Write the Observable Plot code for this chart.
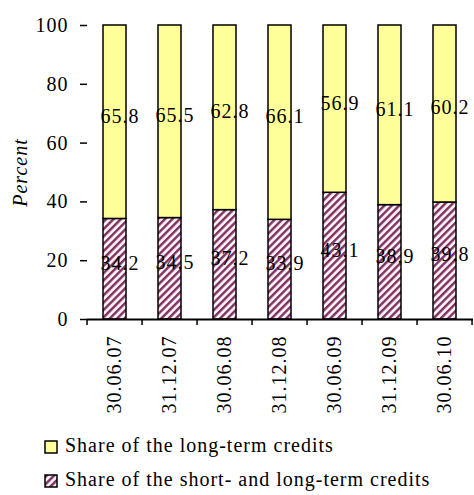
<!DOCTYPE html>
<html>
<head>
<meta charset="utf-8">
<script src="https://cdn.jsdelivr.net/npm/d3@7"></script>
<script src="https://cdn.jsdelivr.net/npm/@observablehq/plot@0.6"></script>
<style>
  html, body { margin: 0; padding: 0; background: #fff; }
  #chart svg, #legend svg { display: block; }
</style>
</head>
<body>
<div id="chart"></div>
<div id="legend"></div>
<script>
// ---- data ----
const dates = ["30.06.07", "31.12.07", "30.06.08", "31.12.08", "30.06.09", "31.12.09", "30.06.10"];
const shortAndLong = [34.2, 34.5, 37.2, 33.9, 43.1, 38.9, 39.8];
const longTerm = [65.8, 65.5, 62.8, 66.1, 56.9, 61.1, 60.2];
const seriesNames = ["Share of the long-term credits", "Share of the short- and long-term credits"];
const yTicks = [0, 20, 40, 60, 80, 100];
const yLabel = "Percent";

// ---- style ----
const FONT = "'Liberation Serif', 'Times New Roman', serif";
const FS = "20px", LS = "1px";
const YELLOW = "#ffff99";
const STRIPE = "#7d3461";
const STRIPE_BG = "#fbeef5";
const PAD_IN = 0.58, PAD_OUT = 0.29;

const rows = dates.map((d, i) => ({
  date: d,
  low: shortAndLong[i],
  high: longTerm[i],
  top: shortAndLong[i] + longTerm[i]
}));

function defsMark() {
  const g = d3.create("svg:g");
  const p = g.append("defs").append("pattern")
    .attr("id", "hatch")
    .attr("patternUnits", "userSpaceOnUse")
    .attr("width", 5.2).attr("height", 5.2)
    .attr("patternTransform", "rotate(45)");
  p.append("rect").attr("width", 5.2).attr("height", 5.2).attr("fill", STRIPE_BG);
  p.append("rect").attr("width", 2.4).attr("height", 5.2).attr("fill", STRIPE);
  return g.node();
}

function boundaryTicks(index, scales, values, dims) {
  const x = scales.x, y = scales.y;
  const step = x(dates[1]) - x(dates[0]);
  const g = d3.create("svg:g").attr("stroke", "black").attr("stroke-width", 1.5);
  const y0 = y(0);
  const xs = dates.map(d => x(d) - step * PAD_OUT);
  xs.push(x(dates[dates.length - 1]) + step * (1 - PAD_OUT));
  for (const bx of xs) {
    g.append("line").attr("x1", bx).attr("x2", bx).attr("y1", y0).attr("y2", y0 + 6);
  }
  return g.node();
}

const chart = Plot.plot({
  width: 474,
  height: 425,
  marginTop: 25,
  marginLeft: 87,
  marginRight: 1,
  marginBottom: 106,
  style: { fontFamily: FONT, fontSize: FS, letterSpacing: LS, background: "white", color: "black" },
  x: { domain: dates, paddingInner: PAD_IN, paddingOuter: PAD_OUT, align: 0.5 },
  y: { domain: [0, 100] },
  marks: [
    defsMark,
    Plot.barY(rows, { x: "date", y1: 0, y2: "low", fill: "url(#hatch)", stroke: "black", strokeWidth: 1.5 }),
    Plot.barY(rows, { x: "date", y1: "low", y2: "top", fill: YELLOW, stroke: "black", strokeWidth: 1.5 }),
    Plot.text(rows, { x: "date", y: d => d.low / 2, text: d => d.low.toFixed(1), dx: 5, dy: -6, fill: "black" }),
    Plot.text(rows, { x: "date", y: d => d.low + d.high / 2, text: d => d.high.toFixed(1), dx: 5, dy: -6, fill: "black" }),
    Plot.axisY({ ticks: yTicks, tickSize: 7, tickPadding: 12, strokeWidth: 1.5, label: null, line: true }),
    Plot.axisX({ tickSize: 0, tickPadding: 16, tickRotate: -90, label: null }),
    Plot.ruleY([0], { stroke: "black", strokeWidth: 2 }),
    boundaryTicks,
    Plot.text([yLabel], { frameAnchor: "left", textAnchor: "middle", rotate: -90, dx: -67, fontStyle: "italic", text: d => d })
  ]
});
document.getElementById("chart").appendChild(chart);

// ---- legend (below the chart) ----
const leg = d3.select("#legend").append("svg")
  .attr("width", 474).attr("height", 70)
  .style("font-family", FONT).style("font-size", FS).style("letter-spacing", LS);
const legItems = [
  { name: seriesNames[0], fill: YELLOW, y: 16 },
  { name: seriesNames[1], fill: "url(#hatch)", y: 50 }
];
for (const it of legItems) {
  leg.append("rect").attr("x", 45).attr("y", it.y).attr("width", 12).attr("height", 12)
    .attr("fill", it.fill).attr("stroke", "black").attr("stroke-width", 1.5);
  leg.append("text").attr("x", 65).attr("y", it.y + 11).text(it.name);
}
</script>
</body>
</html>
